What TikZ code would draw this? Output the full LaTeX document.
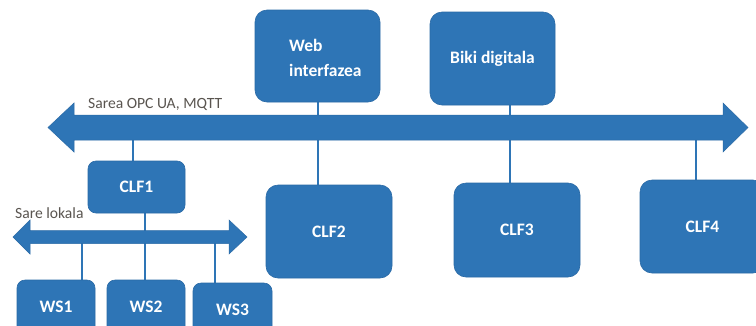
\documentclass[tikz,border=0pt]{standalone}
\usepackage{fontspec}
\setmainfont{Carlito}
\usetikzlibrary{backgrounds}
\definecolor{netblue}{HTML}{2E75B6}
\definecolor{netedge}{HTML}{2A6AA6}
\definecolor{labelgray}{HTML}{5A5550}
\begin{document}
\begin{tikzpicture}[x=1pt,y=-1pt,
  unitbox/.style={rectangle, rounded corners=12pt, fill=netblue, draw=netedge, line width=0.6pt,
    text=white, font=\bfseries\fontsize{17.5}{21}\selectfont, inner sep=0pt},
  smallbox/.style={unitbox, rounded corners=8pt},
  boxtext/.style={text=white, font=\bfseries\fontsize{17.5}{25}\selectfont, inner sep=0pt},
  busshape/.style={fill=netblue, draw=netedge, line width=0.5pt},
  link/.style={draw=netblue, line width=2pt},
  netlabel/.style={text=labelgray, font=\fontsize{15.6}{18}\selectfont, inner sep=0pt}]
\clip (0,0) rectangle (756,325);

% reference points on the main bus (OPC UA / MQTT) and the local bus
\coordinate (busA) at (0,127.5);
\coordinate (busB) at (0,237);

% upper devices
\node[unitbox, minimum width=125pt, minimum height=92pt] (web) at (317.5,56) {};
\node[boxtext, align=left, anchor=west] (webtext) at (289,57.5) {Web\\interfazea};
\node[unitbox, minimum width=125pt, minimum height=93pt] (biki) at (492.5,58.5) {Biki digitala};

% controllers
\node[smallbox, minimum width=97pt, minimum height=52pt] (clf1) at (136.5,187) {CLF1};
\node[unitbox, minimum width=126pt, minimum height=93pt] (clf2) at (329,231.5) {CLF2};
\node[unitbox, minimum width=126pt, minimum height=94pt] (clf3) at (517,230) {CLF3};
\node[unitbox, minimum width=125pt, minimum height=93pt] (clf4) at (702.5,226.5) {CLF4};

% workstations
\node[smallbox, minimum width=78pt, minimum height=54pt] (ws1) at (56,307) {WS1};
\node[smallbox, minimum width=78pt, minimum height=54pt] (ws2) at (146,307) {WS2};
\node[smallbox, minimum width=79pt, minimum height=54pt] (ws3) at (232.5,310) {WS3};

% bus labels
\node[netlabel, anchor=base west] (opclabel) at (88,108) {Sarea OPC UA, MQTT};
\node[netlabel, anchor=base west] (lanlabel) at (15,218) {Sare lokala};

\begin{pgfonlayer}{background}
\fill[white] (0,0) rectangle (756,325);
% drop lines to the buses
\draw[link] (web.south) -- (web.south |- busA);
\draw[link] ([xshift=17.5pt]biki.south) -- ([xshift=17.5pt]biki.south |- busA);
\draw[link] ([xshift=-3.5pt]clf1.north) -- ([xshift=-3.5pt]clf1.north |- busA);
\draw[link] ([xshift=-11pt]clf2.north) -- ([xshift=-11pt]clf2.north |- busA);
\draw[link] ([xshift=-7pt]clf3.north) -- ([xshift=-7pt]clf3.north |- busA);
\draw[link] ([xshift=-6.5pt]clf4.north) -- ([xshift=-6.5pt]clf4.north |- busA);
\draw[link] ([xshift=8.5pt]clf1.south) -- ([xshift=8.5pt]clf1.south |- busB);
\draw[link] ([xshift=26pt]ws1.north) -- ([xshift=26pt]ws1.north |- busB);
\draw[link] ([xshift=-1pt]ws2.north) -- ([xshift=-1pt]ws2.north |- busB);
\draw[link] ([xshift=-17.5pt]ws3.north) -- ([xshift=-17.5pt]ws3.north |- busB);

% double-headed bus arrows
\path[busshape] (48,127.5) -- (74,103) -- (74,115) -- (723,115) -- (723,103) -- (748,127.5)
  -- (723,152) -- (723,140) -- (74,140) -- (74,152) -- cycle;
\path[busshape] (13,237) -- (30,220) -- (30,230.5) -- (229,230.5) -- (229,220) -- (247,237)
  -- (229,254) -- (229,243.5) -- (30,243.5) -- (30,254) -- cycle;
\end{pgfonlayer}
\end{tikzpicture}
\end{document}
